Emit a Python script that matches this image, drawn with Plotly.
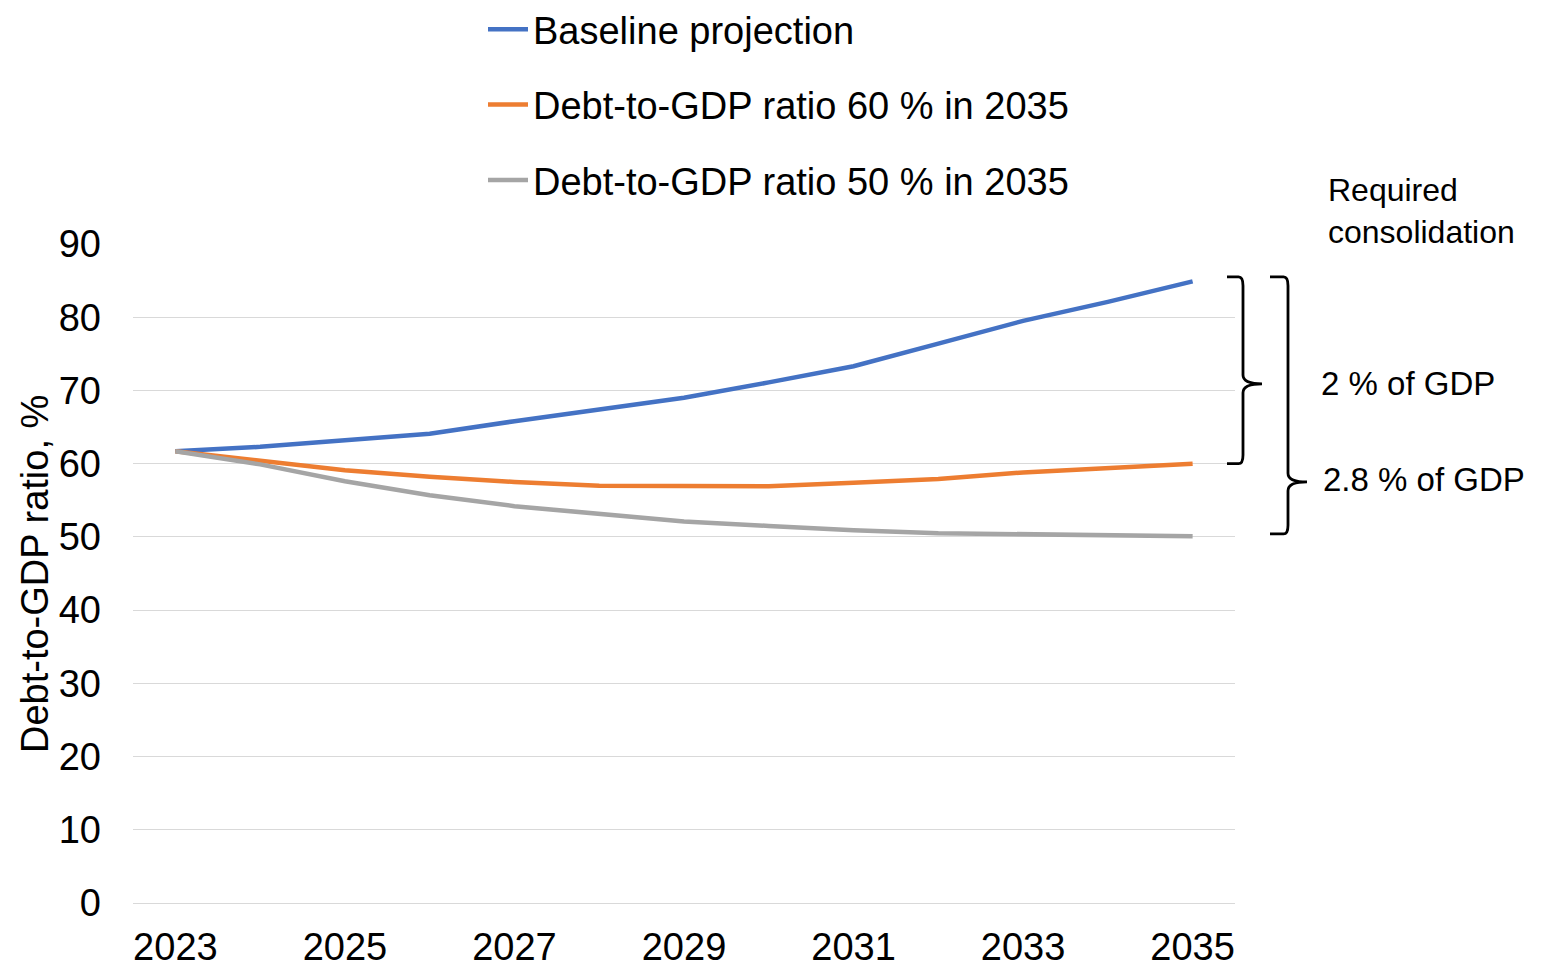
import plotly.graph_objects as go

years = list(range(2023, 2036))
baseline = [61.7, 62.3, 63.2, 64.1, 65.8, 67.4, 69.0, 71.1, 73.3, 76.4, 79.5, 82.1, 84.9]
target60 = [61.7, 60.4, 59.1, 58.2, 57.5, 57.0, 56.9, 56.9, 57.4, 57.9, 58.8, 59.4, 60.0]
target50 = [61.7, 59.9, 57.6, 55.7, 54.2, 53.1, 52.1, 51.5, 50.9, 50.5, 50.4, 50.2, 50.1]
series_names = ["Baseline projection", "Debt-to-GDP ratio 60 % in 2035", "Debt-to-GDP ratio 50 % in 2035"]
colors = ["#4472C4", "#ED7D31", "#A5A5A5"]
xticks = [2023, 2025, 2027, 2029, 2031, 2033, 2035]
yticks = [0, 10, 20, 30, 40, 50, 60, 70, 80, 90]

W, H = 1543, 967
OFF = 8  # default page body margin
# target plot area in screen pixels: x 133..1235, y 244..903
L = 133 - OFF
R = W - (1235 - OFF)
T = 244 - OFF
B = H - (903 - OFF)
PW = W - L - R
PH = H - T - B
FONT = "Liberation Sans, Arial, sans-serif"

fig = go.Figure()
for i, (name, vals, col) in enumerate(zip(series_names, [baseline, target60, target50], colors)):
    fig.add_trace(go.Scatter(x=years, y=vals, mode="lines", name=name,
                             legendgroup=f"g{i}",
                             line=dict(color=col, width=4.5)))

def px2paper(px):
    return (px - OFF - L) / PW

def py2paper(py):
    return 1 - (py - OFF - T) / PH

top = baseline[-1] + 0.6
inner_bot = target60[-1]
outer_bot = target50[-1] + 0.3
inner_tick = 70.9
outer_tick = 57.5

def brace(xl, xv, xt, ytop, ybot, ymid):
    a, b, c = px2paper(xl), px2paper(xv), px2paper(xt)
    r = 1.2
    return (f"M {a},{ytop} L {b - 0.004},{ytop} Q {b},{ytop} {b},{ytop - r} "
            f"L {b},{ymid + r} Q {b},{ymid} {c},{ymid} Q {b},{ymid} {b},{ymid - r} "
            f"L {b},{ybot + r} Q {b},{ybot} {b - 0.004},{ybot} L {a},{ybot}")

shapes = [
    dict(type="path", xref="paper", yref="y", path=brace(1227, 1243, 1262, top, inner_bot, inner_tick),
         line=dict(color="black", width=2.8)),
    dict(type="path", xref="paper", yref="y", path=brace(1270, 1288, 1307, top, outer_bot, outer_tick),
         line=dict(color="black", width=2.8)),
]

annotations = [
    dict(text="Debt-to-GDP ratio, %", xref="paper", yref="paper",
         x=px2paper(35), y=py2paper(574), xanchor="center", yanchor="middle",
         textangle=-90, showarrow=False, font=dict(family=FONT, size=38, color="black")),
    dict(text="Required<br>consolidation", xref="paper", yref="paper",
         x=px2paper(1326), y=py2paper(170), xanchor="left", yanchor="top",
         align="left", showarrow=False, font=dict(family=FONT, size=32, color="black")),
    dict(text="2 % of GDP", xref="paper", yref="y", x=px2paper(1319), y=70.9,
         xanchor="left", yanchor="middle", showarrow=False,
         font=dict(family=FONT, size=33, color="black")),
    dict(text="2.8 % of GDP", xref="paper", yref="y", x=px2paper(1321), y=57.8,
         xanchor="left", yanchor="middle", showarrow=False,
         font=dict(family=FONT, size=33, color="black")),
]

fig.update_layout(
    width=W, height=H,
    margin=dict(l=L, r=R, t=T, b=B, autoexpand=False),
    paper_bgcolor="white", plot_bgcolor="white",
    font=dict(family=FONT, size=38, color="black"),
    showlegend=True,
    legend=dict(x=px2paper(483), y=py2paper(-2), xanchor="left", yanchor="top",
                tracegroupgap=23, itemwidth=40, font=dict(size=38, color="black"),
                bgcolor="rgba(0,0,0,0)"),
    shapes=shapes, annotations=annotations,
)
fig.update_xaxes(range=[2022.5, 2035.5], tickvals=xticks, ticktext=[str(t) for t in xticks],
                 showgrid=False, showline=True, linecolor="#D9D9D9", linewidth=1,
                 ticks="", zeroline=False, ticklabelstandoff=10,
                 tickfont=dict(size=38, color="black"))
fig.update_yaxes(range=[0, 90], tickvals=yticks, showgrid=True, gridcolor="#D9D9D9", gridwidth=1,
                 zeroline=False, showline=False, ticks="", ticklabelstandoff=31,
                 tickfont=dict(size=38, color="black"))

fig.write_html("out.html")
